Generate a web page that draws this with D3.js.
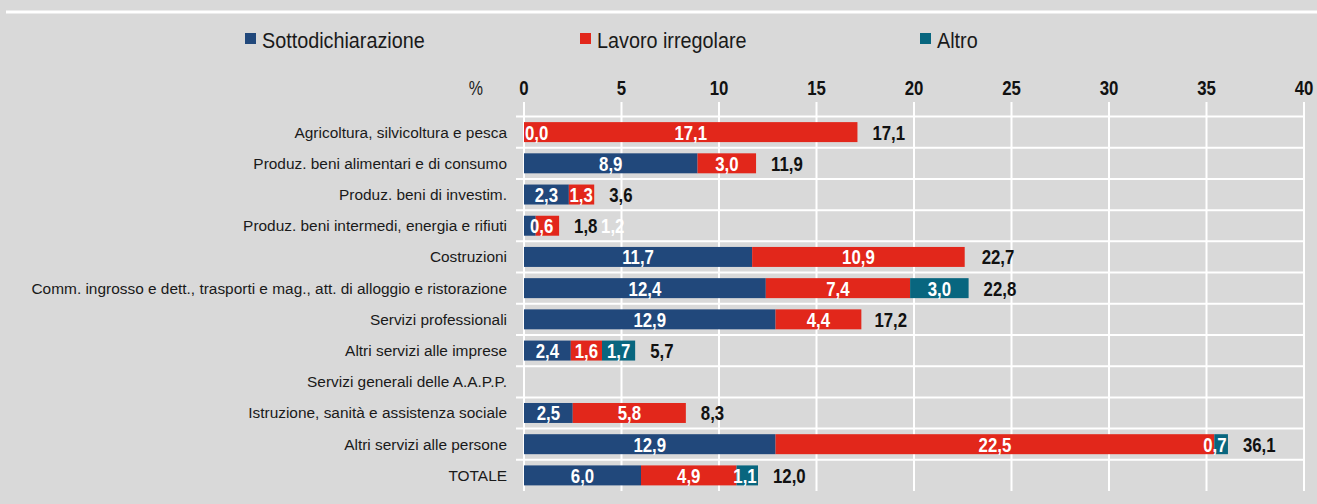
<!DOCTYPE html>
<html>
<head>
<meta charset="utf-8">
<script src="https://d3js.org/d3.v7.min.js"></script>
<style>
 body { margin: 0; background: #d9d9d9; }
 svg { display: block; }
 text { font-family: "Liberation Sans", Arial, sans-serif; }
</style>
</head>
<body>
<svg width="1317" height="504"></svg>
<script>
 var categories = [
   "Agricoltura, silvicoltura e pesca",
   "Produz. beni alimentari e di consumo",
   "Produz. beni di investim.",
   "Produz. beni intermedi, energia e rifiuti",
   "Costruzioni",
   "Comm. ingrosso e dett., trasporti e mag., att. di alloggio e ristorazione",
   "Servizi professionali",
   "Altri servizi alle imprese",
   "Servizi generali delle A.A.P.P.",
   "Istruzione, sanità e assistenza sociale",
   "Altri servizi alle persone",
   "TOTALE"
 ];
 var sottodichiarazione = [0.0, 8.9, 2.3, 0.6, 11.7, 12.4, 12.9, 2.4, null, 2.5, 12.9, 6.0];
 var lavoroIrregolare   = [17.1, 3.0, 1.3, 1.2, 10.9, 7.4, 4.4, 1.6, null, 5.8, 22.5, 4.9];
 var altro              = [null, null, null, null, null, 3.0, null, 1.7, null, null, 0.7, 1.1];
 var totali             = [17.1, 11.9, 3.6, 1.8, 22.7, 22.8, 17.2, 5.7, null, 8.3, 36.1, 12.0];
 var seriesNames = ["Sottodichiarazione", "Lavoro irregolare", "Altro"];
 var xTicks = [0, 5, 10, 15, 20, 25, 30, 35, 40];

 var colors = ["#21487b", "#e2271b", "#08667f"];
 var fmt = function (v) { return d3.format(".1f")(v).replace(".", ","); };
 // no narrow font installed: squeeze the text horizontally
 var narrow = function (sx) {
   return function (px, py) { return "translate(" + px + "," + py + ") scale(" + sx + ",1)"; };
 };
 var numT = narrow(0.8);

 var svg = d3.select("svg");
 svg.append("rect").attr("width", 1317).attr("height", 504).attr("fill", "#d9d9d9");
 svg.append("line").attr("x1", 6).attr("x2", 1317).attr("y1", 12).attr("y2", 12)
    .attr("stroke", "#ffffff").attr("stroke-width", 3);

 var x = d3.scaleLinear().domain([0, 40]).range([524, 1304]);
 var y = d3.scaleBand().domain(categories).range([116.5, 491]).paddingInner(0.36).paddingOuter(0.18);
 var band = d3.scaleBand().domain(categories).range([116.5, 491]);

 // grid
 var grid = svg.append("g");
 grid.selectAll("line.v").data(xTicks).enter().append("line")
    .attr("x1", function (d) { return x(d); }).attr("x2", function (d) { return x(d); })
    .attr("y1", 102).attr("y2", 491)
    .attr("stroke", "#ffffff").attr("stroke-width", 2);
 grid.selectAll("line.h").data(categories).enter().append("line")
    .attr("x1", 516).attr("x2", x(40))
    .attr("y1", function (d) { return band(d); }).attr("y2", function (d) { return band(d); })
    .attr("stroke", "#ffffff").attr("stroke-width", 2);

 // top axis labels
 svg.selectAll("text.tick").data(xTicks).enter().append("text")
    .attr("transform", function (d) { return numT(x(d), 95); })
    .attr("text-anchor", "middle").attr("font-size", "21px").attr("font-weight", "bold")
    .attr("fill", "#111").text(function (d) { return d; });
 svg.append("text").attr("transform", narrow(0.8)(483, 95)).attr("text-anchor", "end")
    .attr("font-size", "20px").attr("fill", "#222").text("%");

 // category labels
 svg.selectAll("text.cat").data(categories).enter().append("text")
    .attr("transform", function (d) { return narrow(0.995)(507, band(d) + band.bandwidth() / 2 + 5.5); })
    .attr("text-anchor", "end").attr("font-size", "15.5px").attr("fill", "#1a1a1a")
    .text(function (d) { return d; });

 // stacked bars
 var rows = categories.map(function (c, i) {
   return { cat: c, vals: [sottodichiarazione[i], lavoroIrregolare[i], altro[i]], tot: totali[i] };
 });
 var stack = d3.stack().keys([0, 1, 2]).value(function (d, k) { return d.vals[k] || 0; });
 var layers = stack(rows);

 layers.forEach(function (layer, k) {
   var g = svg.append("g");
   g.selectAll("rect").data(layer.filter(function (d) { return d.data.vals[k] !== null && d[1] > d[0]; }))
     .enter().append("rect")
     .attr("x", function (d) { return x(d[0]); })
     .attr("width", function (d) { return x(d[1]) - x(d[0]); })
     .attr("y", function (d) { return y(d.data.cat); })
     .attr("height", y.bandwidth())
     .attr("fill", colors[k]);
 });

 // segment labels (white)
 layers.forEach(function (layer, k) {
   var g = svg.append("g");
   g.selectAll("text").data(layer.filter(function (d) { return d.data.vals[k] !== null; }))
     .enter().append("text")
     .attr("transform", function (d) {
       var v = d.data.vals[k], px;
       if (v === 0) px = x(d[0]) + 1;
       // the small "intermedi" row: labels pushed right in the original
       else if (d.data.cat === categories[3]) px = k === 0 ? x(d[1] + 0.3) : x(d.data.tot + 2.75);
       else if (v < 1.5) px = x(d[1]) - 13;   // narrow end segments: label hugs the bar end
       else px = x((d[0] + d[1]) / 2);
       return numT(px, y(d.data.cat) + y.bandwidth() / 2 + 7.5);
     })
     .attr("text-anchor", function (d) { return d.data.vals[k] === 0 ? "start" : "middle"; })
     .attr("font-size", "21px").attr("font-weight", "bold").attr("fill", "#ffffff")
     .text(function (d) { return fmt(d.data.vals[k]); });
 });

 // totals
 svg.append("g").selectAll("text").data(rows.filter(function (d) { return d.tot !== null; }))
    .enter().append("text")
    .attr("transform", function (d) { return numT(x(d.tot) + 15, y(d.cat) + y.bandwidth() / 2 + 7.5); })
    .attr("font-size", "21px").attr("font-weight", "bold").attr("fill", "#111")
    .text(function (d) { return fmt(d.tot); });

 // legend
 var legX = [245, 580, 920];
 var leg = svg.append("g");
 seriesNames.forEach(function (name, k) {
   leg.append("rect").attr("x", legX[k]).attr("y", 33).attr("width", 11).attr("height", 11).attr("fill", colors[k]);
   leg.append("text").attr("transform", narrow(0.9)(legX[k] + 17, 47.5))
      .attr("font-size", "22px").attr("fill", "#1a1a1a").text(name);
 });
</script>
</body>
</html>
